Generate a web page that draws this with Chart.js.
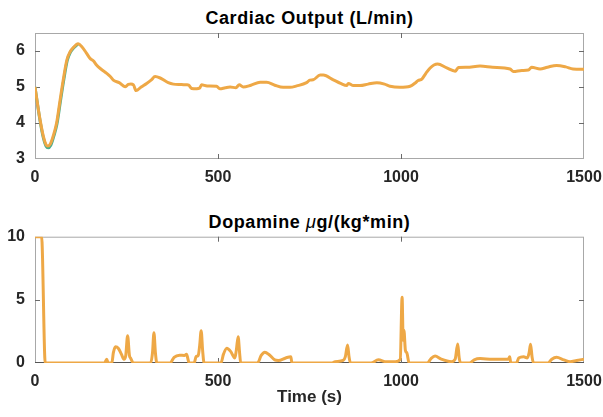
<!DOCTYPE html>
<html>
<head>
<meta charset="utf-8">
<script src="https://cdn.jsdelivr.net/npm/chart.js@4/dist/chart.umd.min.js"></script>
<style>
  body { margin: 0; background: #fff; }
  #wrap { position: relative; width: 603px; height: 417px; font-family: "Liberation Sans", Arial, sans-serif; }
  .ttl { position: absolute; left: 35px; width: 549px; text-align: center; font-weight: bold; font-size: 18px; letter-spacing: 0.6px; line-height: 20px; color: #000; }
  .ttl i { font-weight: normal; }
  canvas { position: absolute; left: 0; }
</style>
</head>
<body>
<div id="wrap">
  <div class="ttl" style="top:8px">Cardiac Output (L/min)</div>
  <canvas id="co-chart" width="603" height="200" style="top:0"></canvas>
  <div class="ttl" style="top:212px">Dopamine <i>μ</i>g/(kg*min)</div>
  <canvas id="dop-chart" width="603" height="217" style="top:200px"></canvas>
</div>
<script>
// cardiac output, seconds -> L/min
const coTime = [0, 8, 14, 23, 30, 35, 42, 50, 59, 68, 77, 87, 96, 105, 118, 128, 140, 150, 160, 168, 180, 196, 205, 214, 230, 246, 255, 262, 269, 276, 290, 305, 318, 328, 342, 364, 378, 400, 414, 420, 428, 442, 450, 455, 470, 496, 505, 520, 533, 549, 558, 569, 590, 615, 633, 655, 678, 697, 715, 742, 751, 760, 779, 788, 815, 835, 852, 856, 870, 888, 910, 934, 955, 970, 997, 1025, 1040, 1047, 1057, 1068, 1079, 1090, 1100, 1125, 1148, 1157, 1180, 1216, 1250, 1298, 1307, 1330, 1348, 1357, 1380, 1400, 1425, 1450, 1470, 1500];
const coValues = [5.0, 4.45, 4.08, 3.62, 3.4, 3.36, 3.42, 3.65, 4.0, 4.6, 5.19, 5.75, 5.98, 6.1, 6.2, 6.12, 5.95, 5.8, 5.72, 5.61, 5.5, 5.38, 5.3, 5.19, 5.12, 5.01, 5.07, 5.08, 5.06, 4.9, 5.0, 5.1, 5.2, 5.29, 5.25, 5.12, 5.08, 5.07, 5.06, 5.05, 4.96, 4.95, 4.97, 5.06, 5.03, 5.02, 4.95, 4.98, 5.0, 4.98, 5.06, 5.0, 5.05, 5.13, 5.13, 5.05, 4.99, 4.99, 5.03, 5.12, 5.19, 5.2, 5.33, 5.33, 5.2, 5.1, 5.04, 5.1, 5.04, 5.04, 5.08, 5.12, 5.08, 5.02, 4.99, 5.02, 5.12, 5.18, 5.22, 5.38, 5.52, 5.61, 5.64, 5.53, 5.44, 5.54, 5.55, 5.58, 5.55, 5.5, 5.43, 5.46, 5.47, 5.55, 5.5, 5.55, 5.6, 5.56, 5.5, 5.49];
// second (model) trace, only visible around the dip
const coModelTime = [0, 14, 23, 30, 36, 43, 51, 60, 69, 78, 88, 97, 106, 118];
const coModelValues = [5.0, 4.05, 3.58, 3.36, 3.31, 3.38, 3.62, 3.97, 4.57, 5.16, 5.73, 5.97, 6.09, 6.2];

// dopamine, seconds -> ug/(kg*min)
const dopTime = [0, 18, 28, 190, 196, 200, 210, 214, 220, 228, 236, 243, 248, 253, 258, 261, 269, 316, 321, 325, 329, 333, 369, 380, 395, 408, 414, 418, 421, 435, 440, 446, 450, 454, 458, 462, 508, 515, 524, 535, 546, 550, 555, 559, 562, 608, 618, 628, 640, 655, 665, 685, 699, 702, 812, 820, 842, 848, 854, 858, 862, 918, 938, 960, 985, 998, 1003, 1006, 1008, 1012, 1016, 1022, 1072, 1082, 1093, 1110, 1138, 1148, 1155, 1159, 1163, 1187, 1200, 1216, 1250, 1293, 1297, 1300, 1315, 1322, 1335, 1345, 1350, 1354, 1358, 1362, 1402, 1412, 1425, 1445, 1462, 1480, 1500];
const dopValues = [10, 10, 0, 0, 0.3, 0, 0, 0.8, 1.29, 1.15, 0.7, 0.3, 0.6, 2.16, 0.6, 0.4, 0, 0, 0.8, 2.4, 0.8, 0, 0, 0.45, 0.62, 0.6, 0.7, 0.3, 0, 0, 0.5, 0.6, 1.4, 2.56, 1.0, 0, 0, 0.7, 1.16, 0.9, 0.4, 1.0, 2.08, 0.8, 0, 0, 0.6, 0.85, 0.65, 0.25, 0.2, 0.4, 0.5, 0, 0, 0.1, 0.2, 0.5, 1.43, 0.5, 0, 0, 0.25, 0.1, 0.1, 0.3, 5.2, 1.8, 2.6, 1.0, 0.8, 0, 0, 0.35, 0.55, 0.3, 0.1, 0.3, 1.5, 0.4, 0, 0, 0.25, 0.35, 0.3, 0.3, 0.5, 0, 0, 0.4, 0.5, 0.4, 0.8, 1.48, 0.5, 0, 0, 0.3, 0.45, 0.25, 0.1, 0.2, 0.3];

const timeTicks = [0, 500, 1000, 1500];
const coTicks = [3, 4, 5, 6];
const dopTicks = [0, 5, 10];

const lineColor = '#EEA846';
const modelColor = '#4AAE8F';
const tickFont = { family: '"Liberation Sans", Arial, sans-serif', size: 16, weight: 'bold' };
const labelFont = { family: '"Liberation Sans", Arial, sans-serif', size: 17, weight: 'bold' };

function pairs(xs, ys) {
    return xs.map((x, i) => ({ x: x, y: ys[i] }));
}

// matlab style box with inward ticks
const boxPlugin = {
    id: 'box',
    beforeDatasetsDraw(chart, args, opts) {
        let ctx = chart.ctx;
        let a = chart.chartArea;
        let xs = chart.scales.x, ys = chart.scales.y;
        ctx.save();
        ctx.lineWidth = 1;
        ctx.strokeStyle = '#a8a8a8';
        ctx.strokeRect(a.left + 0.5, a.top + 0.5, a.right - a.left - 1, a.bottom - a.top - 1);
        ctx.strokeStyle = opts.bottomColor || '#a8a8a8';
        ctx.beginPath();
        ctx.moveTo(a.left, a.bottom - 0.5);
        ctx.lineTo(a.right, a.bottom - 0.5);
        ctx.stroke();
        ctx.strokeStyle = '#6a6a6a';
        ctx.beginPath();
        xs.ticks.forEach(t => {
            let px = Math.round(xs.getPixelForValue(t.value)) + 0.5;
            if (px < a.left + 2 || px > a.right - 2) return;
            ctx.moveTo(px, a.bottom); ctx.lineTo(px, a.bottom - 5);
            ctx.moveTo(px, a.top); ctx.lineTo(px, a.top + 5);
        });
        ys.ticks.forEach(t => {
            let py = Math.round(ys.getPixelForValue(t.value)) + 0.5;
            if (py < a.top + 2 || py > a.bottom - 2) return;
            ctx.moveTo(a.left, py); ctx.lineTo(a.left + 5, py);
            ctx.moveTo(a.right, py); ctx.lineTo(a.right - 5, py);
        });
        ctx.stroke();
        ctx.restore();
    }
};

function makeOptions(yMin, yMax, yTicks, topPad, xHeight, xTitle, bottomColor) {
    return {
        responsive: false,
        animation: false,
        layout: { padding: { left: 0, right: 19, top: topPad, bottom: 0 } },
        plugins: {
            legend: { display: false },
            tooltip: { enabled: false },
            box: { bottomColor: bottomColor }
        },
        scales: {
            x: {
                type: 'linear',
                min: 0,
                max: 1500,
                afterBuildTicks: axis => { axis.ticks = timeTicks.map(v => ({ value: v })); },
                afterFit: axis => {
                    axis.height = xHeight;
                    axis.paddingLeft = 0;
                    axis.paddingRight = 0;
                },
                grid: { display: false, drawTicks: false },
                border: { display: false },
                ticks: { font: tickFont, color: '#262626', padding: 9, maxRotation: 0, callback: v => String(v) },
                title: {
                    display: !!xTitle,
                    text: xTitle || '',
                    font: labelFont,
                    color: '#262626',
                    padding: { top: 0, bottom: 9 }
                }
            },
            y: {
                type: 'linear',
                min: yMin,
                max: yMax,
                afterBuildTicks: axis => { axis.ticks = yTicks.map(v => ({ value: v })); },
                afterFit: axis => { axis.width = 35; },
                grid: { display: false, drawTicks: false },
                border: { display: false },
                ticks: { font: tickFont, color: '#262626', padding: 10, callback: v => String(v) }
            }
        }
    };
}

new Chart(document.getElementById('co-chart'), {
    type: 'line',
    data: {
        datasets: [{
            data: pairs(coTime, coValues),
            borderColor: lineColor,
            borderWidth: 3,
            pointRadius: 0,
            cubicInterpolationMode: 'monotone'
        }, {
            data: pairs(coModelTime, coModelValues),
            borderColor: modelColor,
            borderWidth: 3,
            pointRadius: 0,
            cubicInterpolationMode: 'monotone'
        }]
    },
    options: makeOptions(3, 6.5, coTicks, 33, 41, null, '#a8a8a8'),
    plugins: [boxPlugin]
});

new Chart(document.getElementById('dop-chart'), {
    type: 'line',
    data: {
        datasets: [{
            data: pairs(dopTime, dopValues),
            borderColor: lineColor,
            borderWidth: 3,
            pointRadius: 0,
            cubicInterpolationMode: 'monotone'
        }]
    },
    options: makeOptions(0, 10, dopTicks, 36.7, 54, 'Time (s)', '#555555'),
    plugins: [boxPlugin]
});
</script>
</body>
</html>
